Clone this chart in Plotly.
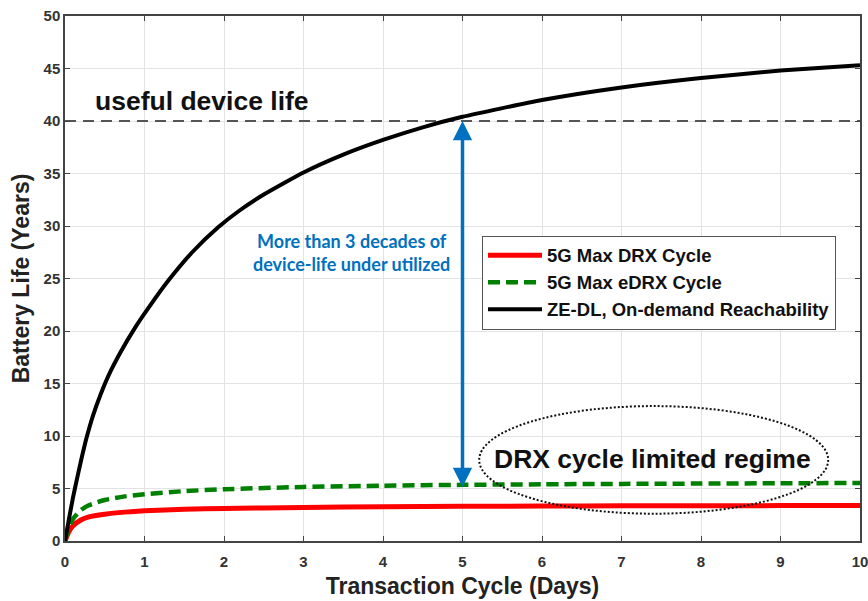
import plotly.graph_objects as go

# ---------------- data ----------------
x_black = [0, 0.05, 0.1, 0.15, 0.2, 0.27, 0.35, 0.45, 0.55, 0.7, 0.88, 1.05, 1.3, 1.6, 1.93,
           2.2, 2.5, 3.0, 3.5, 4.0, 4.5, 5.0, 6.0, 7.0, 8.0, 9.0, 10.0]
y_black = [0, 2.1, 4.1, 5.9, 7.6, 9.8, 11.9, 14.0, 15.8, 18.0, 20.3, 22.2, 24.8, 27.5, 29.9,
           31.5, 33.0, 35.1, 36.8, 38.2, 39.4, 40.4, 42.0, 43.2, 44.1, 44.8, 45.3]

x_drx = [0, 0.05, 0.1, 0.2, 0.3, 0.5, 0.75, 1, 1.5, 2, 3, 4, 5, 6, 7, 8, 9, 10]
y_red = [0, 0.9, 1.45, 2.0, 2.3, 2.55, 2.75, 2.88, 3.02, 3.1, 3.2, 3.26, 3.3,
         3.33, 3.35, 3.36, 3.37, 3.38]
y_green = [0, 1.3, 2.1, 2.95, 3.4, 3.9, 4.25, 4.45, 4.75, 4.93, 5.15, 5.27, 5.35,
           5.4, 5.44, 5.47, 5.5, 5.52]

series_names = ["5G Max DRX Cycle", "5G Max eDRX Cycle", "ZE-DL, On-demand Reachability"]

USEFUL_LIFE = 40
useful_x = [0, 10]
arrow_x = 5
arrow_top = 40
arrow_bottom = 5.0

x_ticks = list(range(0, 11))
y_ticks = list(range(0, 51, 5))

FONT = "Liberation Sans, Arial, sans-serif"
BLUE = "#0070C0"

fig = go.Figure()

# useful device life reference line
fig.add_trace(go.Scatter(x=useful_x, y=[USEFUL_LIFE, USEFUL_LIFE], mode="lines",
                         line=dict(color="#555555", width=2, dash="11px,7px"),
                         showlegend=False, hoverinfo="skip"))

fig.add_trace(go.Scatter(x=x_drx, y=y_red, mode="lines", name=series_names[0],
                         line=dict(color="#FF0000", width=5, shape="spline", smoothing=0.6)))
fig.add_trace(go.Scatter(x=x_drx, y=y_green, mode="lines", name=series_names[1],
                         line=dict(color="#008000", width=4.5, dash="12px,6px",
                                   shape="spline", smoothing=0.6)))
fig.add_trace(go.Scatter(x=x_black, y=y_black, mode="lines", name=series_names[2],
                         line=dict(color="#000000", width=4, shape="spline", smoothing=0.5)))

axis_common = dict(
    showgrid=True, gridcolor="#E3E3E3", gridwidth=1,
    showline=True, linecolor="#444444", linewidth=1.5, mirror="ticks",
    ticks="inside", ticklen=5, tickcolor="#444444", tickwidth=1,
    zeroline=False, automargin=False, ticklabeloverflow="allow",
    tickfont=dict(family=FONT, size=15, color="#333333", weight="bold"),
)

fig.update_xaxes(range=[0, 10], tickvals=x_ticks, ticklabelstandoff=6,
                 title=dict(text="Transaction Cycle (Days)", standoff=9,
                            font=dict(family=FONT, size=23, color="#222222", weight="bold")),
                 **axis_common)
fig.update_yaxes(range=[0, 50], tickvals=y_ticks,
                 title=dict(text="Battery Life (Years)", standoff=8,
                            font=dict(family=FONT, size=23, color="#222222", weight="bold")),
                 **axis_common)

# ellipse around DRX-limited region
fig.add_shape(type="circle", xref="x", yref="y", x0=5.21, x1=9.60, y0=2.6, y1=12.85,
              line=dict(color="#111111", width=2, dash="2px,2px"))

fig.add_annotation(x=0.35, y=41.9, xref="x", yref="y", text="useful device life",
                   showarrow=False, xanchor="left", yanchor="middle",
                   font=dict(family=FONT, size=26.5, color="#111111", weight="bold"))
fig.add_annotation(x=7.39, y=7.8, xref="x", yref="y", text="DRX cycle limited regime",
                   showarrow=False, xanchor="center", yanchor="middle",
                   font=dict(family=FONT, size=26.5, color="#111111", weight="bold"))
fig.add_annotation(x=3.6, y=27.5, xref="x", yref="y",
                   text="More than 3 decades of<br>device-life under utilized",
                   showarrow=False, xanchor="center", yanchor="middle", align="center",
                   font=dict(family="Lato, Open Sans, sans-serif", size=18, color=BLUE, weight="bold"))
fig.add_annotation(x=arrow_x, y=arrow_top, ax=arrow_x, ay=arrow_bottom,
                   xref="x", yref="y", axref="x", ayref="y", text="",
                   showarrow=True, arrowside="end+start", arrowhead=2, arrowsize=1.1,
                   arrowwidth=3.5, arrowcolor=BLUE)

fig.update_layout(
    width=868, height=601,
    margin=dict(l=65, r=8, t=16, b=60, autoexpand=False),
    paper_bgcolor="white", plot_bgcolor="white",
    legend=dict(x=0.5245, y=0.5817, xanchor="left", yanchor="top",
                bgcolor="white", bordercolor="#555555", borderwidth=1,
                font=dict(family=FONT, size=18.5, color="#111111", weight="bold"),
                itemwidth=54, tracegroupgap=0),
    showlegend=True,
)

fig.write_html("out.html", config={"displayModeBar": False},
               post_script="document.body.style.margin='0';document.body.style.padding='0';"
                           "document.body.style.overflow='hidden';")
